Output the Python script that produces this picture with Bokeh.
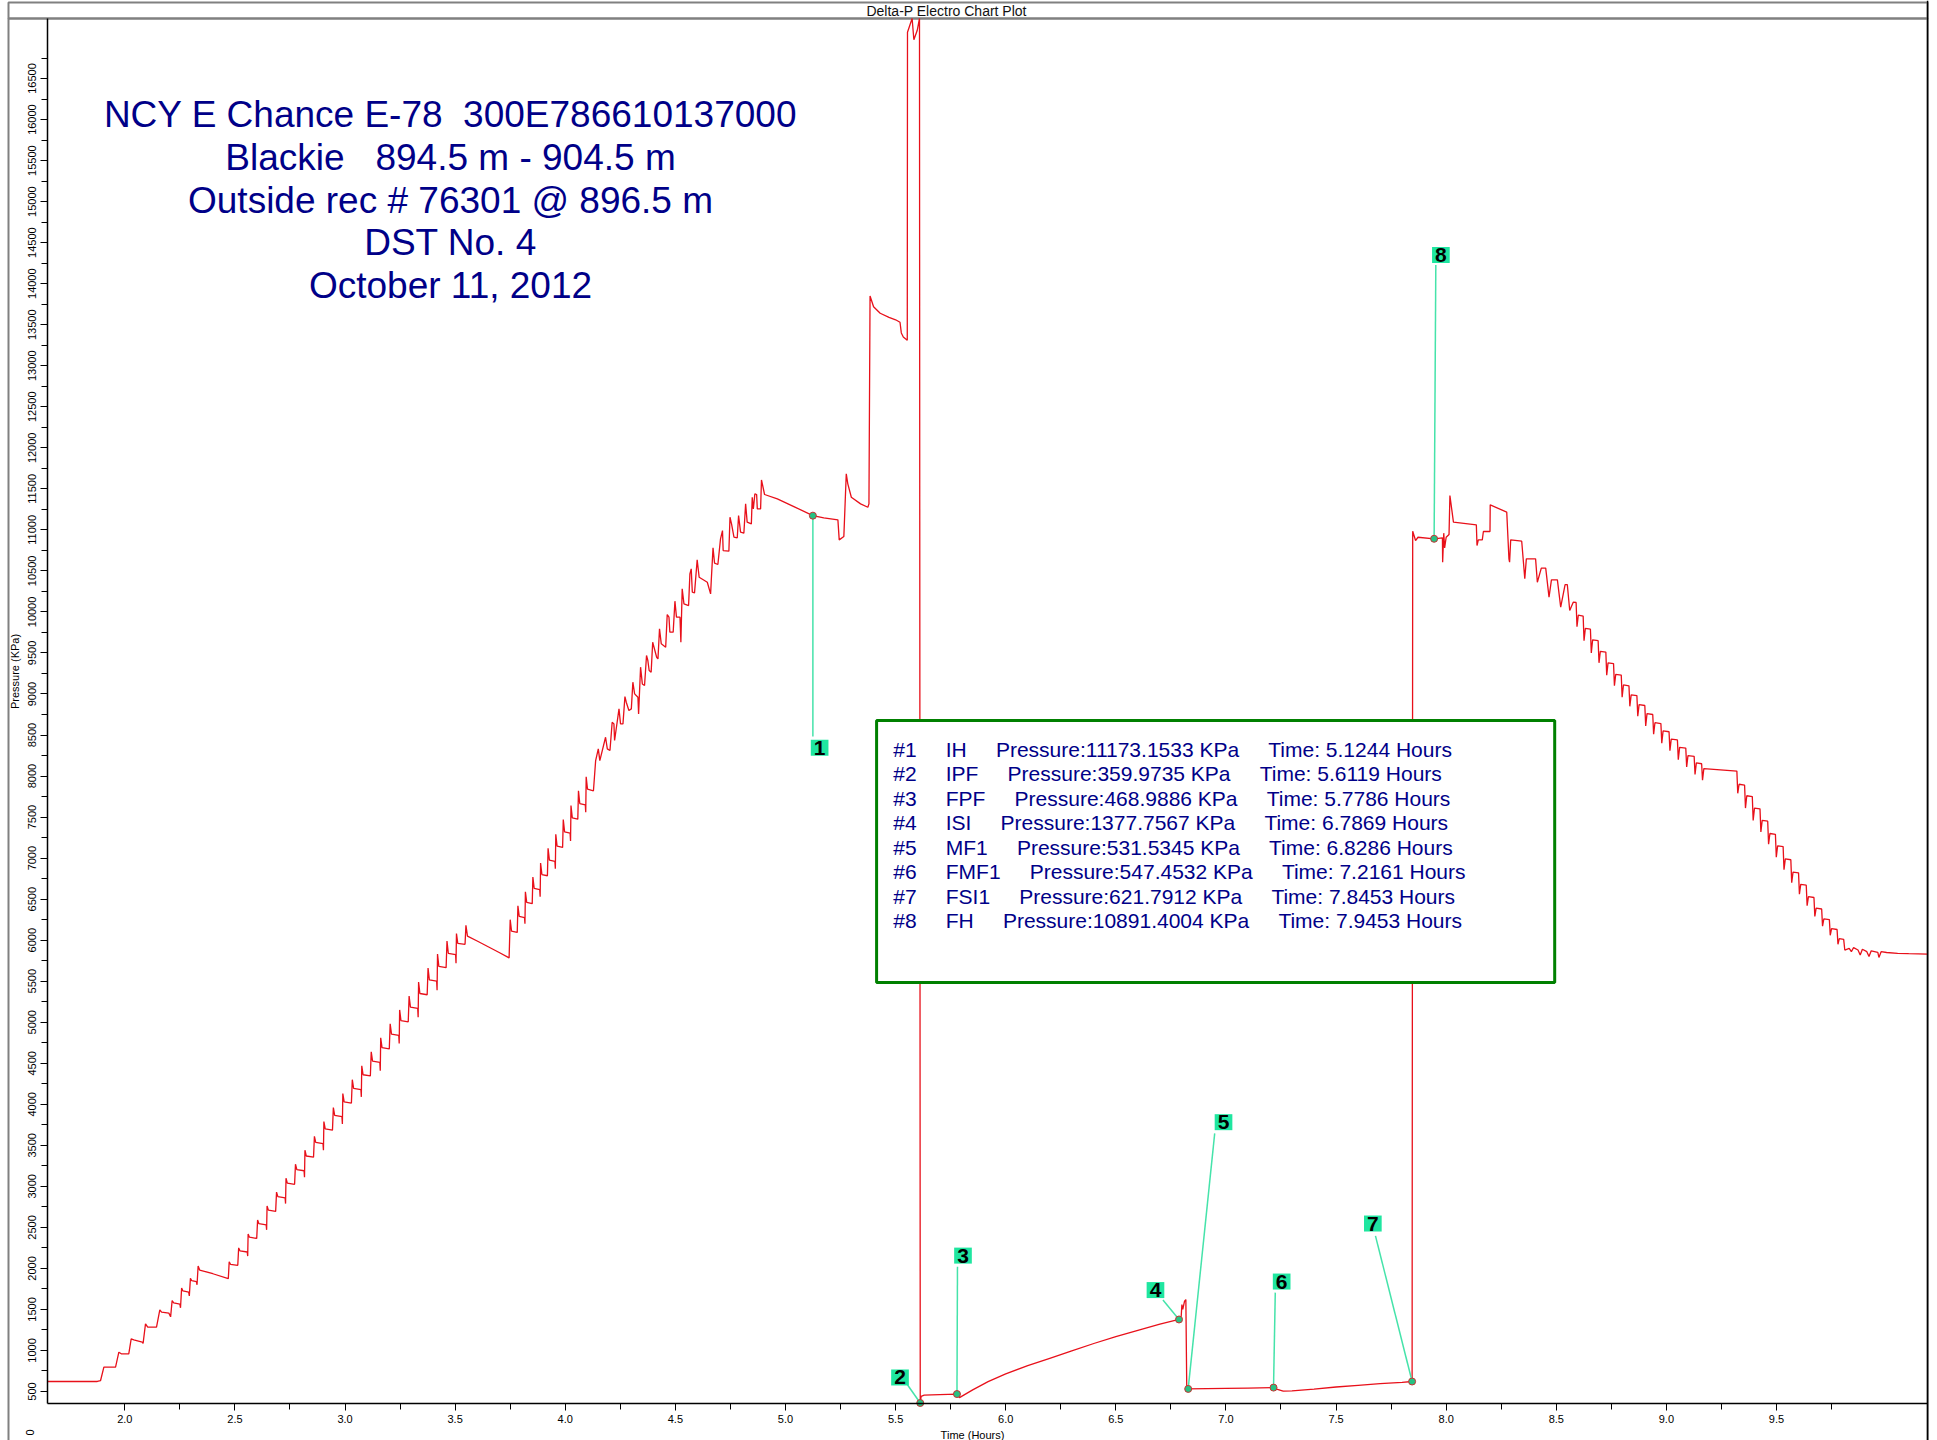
import math
from bokeh.plotting import figure
from bokeh.models import Range1d, FixedTicker, Label, BoxAnnotation, Span, NumeralTickFormatter
from bokeh.embed import file_html
from bokeh.resources import INLINE

FONT = "Liberation Sans"
NB = "\u00a0"

# ---------------- data ----------------
# running in hole: stepped ramp up to IH
run_in_time = [
    1.649, 1.875, 1.890, 1.905, 1.958, 1.973, 1.984, 2.018, 2.029, 2.041, 2.079, 2.083,
    2.094, 2.104, 2.144, 2.159, 2.167, 2.200, 2.208, 2.215, 2.222, 2.250, 2.253, 2.258,
    2.264, 2.290, 2.293, 2.298, 2.304, 2.325, 2.328, 2.333, 2.340, 2.400, 2.470,
    2.474, 2.480, 2.513, 2.517, 2.523, 2.556, 2.558, 2.560, 2.566, 2.599, 2.603, 2.609,
    2.642, 2.644, 2.646, 2.652, 2.685, 2.689, 2.695, 2.728, 2.730, 2.732, 2.738, 2.771,
    2.775, 2.781, 2.814, 2.816, 2.818, 2.824, 2.857, 2.861, 2.867, 2.900, 2.902, 2.904,
    2.910, 2.943, 2.947, 2.953, 2.986, 2.988, 2.990, 2.996, 3.029, 3.033, 3.039, 3.072,
    3.074, 3.076, 3.082, 3.115, 3.119, 3.125, 3.158, 3.160, 3.162, 3.168, 3.201, 3.205,
    3.211, 3.244, 3.246, 3.248, 3.254, 3.287, 3.291, 3.297, 3.330, 3.332, 3.334, 3.340,
    3.373, 3.377, 3.383, 3.416, 3.418, 3.420, 3.426, 3.459, 3.463, 3.469, 3.502, 3.504,
    3.506, 3.512, 3.545, 3.549, 3.556, 3.600, 3.650, 3.700, 3.745,
    3.750, 3.756, 3.782, 3.785, 3.791, 3.815, 3.817, 3.819, 3.825, 3.850, 3.853, 3.859,
    3.884, 3.886, 3.888, 3.894, 3.919, 3.922, 3.928, 3.953, 3.955, 3.957, 3.963, 3.988,
    3.991, 3.997, 4.022, 4.024, 4.026, 4.032, 4.057, 4.060, 4.066, 4.091, 4.093, 4.095,
    4.101, 4.128, 4.138,
    4.150, 4.157, 4.183, 4.191, 4.203, 4.213, 4.221, 4.224, 4.244, 4.251, 4.262, 4.271,
    4.277, 4.289, 4.300, 4.307, 4.315, 4.330, 4.333, 4.342, 4.350, 4.360, 4.369, 4.375,
    4.381, 4.390, 4.397, 4.403, 4.415, 4.421, 4.428, 4.436, 4.456, 4.463, 4.471, 4.475,
    4.490, 4.498, 4.505, 4.521, 4.525, 4.531, 4.539, 4.560, 4.566, 4.572, 4.577, 4.587,
    4.599, 4.608, 4.645, 4.660, 4.663, 4.671, 4.678, 4.693, 4.705, 4.714, 4.717, 4.743,
    4.748, 4.755, 4.766, 4.781, 4.787, 4.796, 4.811, 4.819, 4.826, 4.845, 4.849, 4.854,
    4.861, 4.869, 4.872, 4.887, 4.891, 4.905, 4.963, 5.038, 5.1244, 5.174, 5.238, 5.244,
    5.265, 5.276, 5.283, 5.299, 5.341, 5.374, 5.379,
]
run_in_kpa = [
    622, 622, 634, 796, 796, 979, 959, 959, 1142, 1130, 1101, 1085,
    1325, 1284, 1284, 1496, 1467, 1455, 1410, 1609, 1580, 1565, 1520, 1760,
    1725, 1710, 1665, 1880, 1850, 1840, 1800, 2030, 1980, 1935, 1875,
    2080, 2050, 2038, 2250, 2215, 2200, 2150, 2420, 2380, 2365, 2590, 2545,
    2530, 2470, 2760, 2710, 2695, 2930, 2875, 2860, 2790, 3100, 3040, 3025,
    3270, 3205, 3190, 3110, 3440, 3370, 3355, 3610, 3535, 3520, 3440, 3790,
    3700, 3685, 3960, 3865, 3850, 3760, 4130, 4030, 4015, 4300, 4195, 4180,
    4090, 4470, 4360, 4345, 4640, 4525, 4510, 4410, 4810, 4690, 4675, 4980,
    4855, 4840, 4740, 5150, 5020, 5005, 5320, 5185, 5170, 5060, 5490, 5350,
    5335, 5660, 5515, 5500, 5390, 5830, 5680, 5665, 5990, 5840, 5825, 5720,
    6080, 5960, 5950, 6180, 6050, 5990, 5920, 5850, 5784,
    6250, 6110, 6095, 6420, 6290, 6275, 6200, 6590, 6460, 6445, 6770, 6630,
    6615, 6530, 6940, 6800, 6785, 7120, 6975, 6960, 6870, 7290, 7145, 7130,
    7470, 7320, 7305, 7210, 7640, 7490, 7475, 7820, 7665, 7650, 7560, 7990,
    7840, 7820, 8189,
    8331, 8189, 8473, 8331, 8311, 8656, 8636, 8433, 8819, 8636, 8636, 8969,
    8900, 8799, 8819, 9144, 9002, 8961, 8758, 9327, 9123, 9103, 9469, 9408,
    9286, 9266, 9631, 9570, 9448, 9428, 9794, 9611, 9570, 9968, 9936, 9753,
    9753, 10131, 9936, 9936, 9631, 10281, 10098, 10078, 10464, 10525, 10240, 10232,
    10635, 10423, 10362, 10220, 10383, 10781, 10594, 10578, 10890, 10992, 10748, 10740,
    11154, 11073, 10911, 10903, 11175, 10972, 10959, 11317, 11094, 11073, 11398, 11256,
    11439, 11431, 11256, 11256, 11609, 11431, 11378, 11284, 11173, 11146, 11122, 10878,
    10919, 11683, 11561, 11398, 11317, 11276, 11317,
]

# tool at bottom, pressure surge before opening (runs off the top of the chart)
surge_time = [5.384, 5.400, 5.430, 5.470, 5.500, 5.520, 5.526, 5.535, 5.553, 5.554,
              5.575, 5.583, 5.598, 5.6085]
surge_kpa = [13850, 13720, 13640, 13590, 13560, 13530, 13400, 13350, 13310, 17065,
             17232, 16972, 17085, 17232]

# flow and shut-in periods
test_time = [5.6119, 5.616, 5.630, 5.700, 5.7786, 5.790, 5.850, 5.920, 6.000, 6.100,
             6.200, 6.300, 6.400, 6.500, 6.600, 6.700, 6.7869, 6.797, 6.800, 6.804,
             6.812, 6.818, 6.822, 6.8286, 7.000, 7.100, 7.2161, 7.230, 7.260, 7.300,
             7.400, 7.500, 7.600, 7.700, 7.800, 7.8453]
test_kpa = [360, 440, 455, 462, 469, 425, 520, 620, 715, 815,
            905, 995, 1085, 1170, 1245, 1320, 1378, 1420, 1560, 1500,
            1600, 1620, 560, 531, 538, 542, 547, 530, 505, 508,
            530, 555, 575, 595, 612, 622]

# pulling out of hole
pull_out_time = [
    7.848, 7.861, 7.872, 7.9453, 7.983, 7.984, 7.989, 7.993, 8.000, 8.013, 8.017, 8.033,
    8.137, 8.140, 8.146, 8.164, 8.169, 8.199, 8.200, 8.275, 8.285, 8.288, 8.293, 8.343,
    8.357, 8.364, 8.406, 8.414, 8.432, 8.452, 8.467, 8.478, 8.505, 8.520, 8.540, 8.550,
    8.561, 8.577, 8.590, 8.594, 8.600, 8.622, 8.626, 8.632, 8.655, 8.659, 8.665, 8.690,
    8.694, 8.700, 8.725, 8.729, 8.735, 8.760, 8.764, 8.770, 8.795, 8.799, 8.805, 8.830,
    8.834, 8.840, 8.866, 8.870, 8.876, 8.902, 8.906, 8.912, 8.938, 8.942, 8.948, 8.975,
    8.979, 8.985, 9.012, 9.016, 9.022, 9.050, 9.054, 9.060, 9.088, 9.092, 9.098, 9.126,
    9.130, 9.136, 9.160, 9.164, 9.170, 9.320, 9.324, 9.330, 9.355, 9.359, 9.365, 9.390,
    9.394, 9.400, 9.425, 9.429, 9.435, 9.460, 9.464, 9.470, 9.495, 9.499, 9.505, 9.530,
    9.534, 9.540, 9.565, 9.569, 9.575, 9.600, 9.604, 9.610, 9.635, 9.639, 9.645, 9.670,
    9.674, 9.680, 9.705, 9.709, 9.715, 9.740, 9.744, 9.750, 9.775, 9.779, 9.785, 9.805,
    9.810, 9.830, 9.840, 9.850, 9.870, 9.880, 9.890, 9.910, 9.920, 9.930, 9.960, 9.965,
    9.975, 10.000, 10.050, 10.100, 10.186,
]
pull_out_kpa = [
    10984, 10870, 10910, 10891, 10903, 10606, 10960, 10781, 10910, 10944, 11419, 11094,
    11062, 10809, 10879, 10879, 10980, 10980, 11305, 11216, 10647, 10606, 10879, 10862,
    10404, 10647, 10647, 10362, 10533, 10533, 10180, 10391, 10391, 10058, 10334, 10334,
    10017, 10119, 10115, 9820, 9960, 9950, 9650, 9800, 9790, 9500, 9660, 9650,
    9380, 9520, 9510, 9230, 9380, 9370, 9100, 9240, 9230, 8960, 9110, 9100,
    8850, 8990, 8980, 8730, 8870, 8860, 8610, 8760, 8750, 8510, 8650, 8640,
    8400, 8550, 8540, 8310, 8450, 8440, 8200, 8350, 8340, 8110, 8250, 8240,
    8020, 8160, 8150, 7950, 8090, 8060, 7790, 7900, 7890, 7610, 7760, 7750,
    7460, 7610, 7600, 7320, 7460, 7450, 7170, 7300, 7290, 7010, 7150, 7140,
    6860, 6990, 6980, 6700, 6830, 6820, 6560, 6680, 6670, 6420, 6530, 6520,
    6290, 6390, 6380, 6170, 6260, 6250, 6060, 6140, 6130, 5950, 6020, 6010,
    5880, 5900, 5860, 5910, 5880, 5820, 5890, 5860, 5800, 5870, 5850, 5790,
    5860, 5850, 5840, 5835, 5830,
]

# picked events
event_no = [1, 2, 3, 4, 5, 6, 7, 8]
event_code = ["IH", "IPF", "FPF", "ISI", "MF1", "FMF1", "FSI1", "FH"]
event_kpa = [11173.1533, 359.9735, 468.9886, 1377.7567, 531.5345, 547.4532, 621.7912, 10891.4004]
event_time = [5.1244, 5.6119, 5.7786, 6.7869, 6.8286, 7.2161, 7.8453, 7.9453]

x_major_ticks = [2.0, 2.5, 3.0, 3.5, 4.0, 4.5, 5.0, 5.5, 6.0, 6.5, 7.0, 7.5, 8.0, 8.5, 9.0, 9.5]
x_minor_ticks = [2.25, 2.75, 3.25, 3.75, 4.25, 4.75, 5.25, 5.75, 6.25, 6.75, 7.25, 7.75,
                 8.25, 8.75, 9.25, 9.75]
y_major_ticks = list(range(500, 16501, 500))
y_minor_ticks = list(range(750, 16751, 500))

chart_title = "Delta-P Electro Chart Plot"
x_title = "Time (Hours)"
y_title = "Pressure (KPa)"
header_lines = [
    "NCY E Chance E-78" + NB * 2 + "300E786610137000",
    "Blackie" + NB * 3 + "894.5 m - 904.5 m",
    "Outside rec # 76301 @ 896.5 m",
    "DST No. 4",
    "October 11, 2012",
]

# ---------------- layout (annotation placement) ----------------
# whole canvas is the frame; the plot area is drawn inside it
CX0, CX1 = 1.43559, 10.2310        # canvas left / right in hours
CY0, CY1 = -97.1, 17451.1          # canvas bottom / top in KPa
X0, X1 = 1.649, 10.186             # plot area
Y0, Y1 = 353.8, 17232.0
page_left, page_top, off_bottom = 1.4719, 17427, -300
header_x = 3.479
header_y = [16067, 15539, 15012, 14501, 13973]
box_l, box_r, box_b, box_t = 5.4137, 8.4928, 5484, 8677
rows_x, rows_top, rows_step = 5.4891, 8324, 298.2
callout_x = [5.155, 5.520, 5.806, 6.680, 6.989, 7.253, 7.667, 7.976]
callout_y = [8345, 671, 2156, 1736, 3782, 1840, 2547, 14350]
leader_x = [5.1244, 5.549, 5.781, 6.714, 6.949, 7.224, 7.679, 7.953]
leader_y = [8482, 600, 2020, 1615, 3646, 1705, 2397, 14229]

NAVY = "#000088"
RED = "#e8101a"
LEADER = "#45e3aa"
TAG = "#1fe6a0"
GREY = "#808080"

p = figure(width=1937, height=1440, output_backend="svg", toolbar_location=None, title=None,
           x_range=Range1d(CX0, CX1), y_range=Range1d(CY0, CY1),
           min_border=0, min_border_left=0, min_border_right=0, min_border_top=0,
           min_border_bottom=0)
p.background_fill_color = "white"
p.border_fill_color = "white"
p.outline_line_color = None
p.xgrid.visible = False
p.ygrid.visible = False

for ax in (p.xaxis[0], p.yaxis[0]):
    ax.axis_line_color = "black"
    ax.axis_line_width = 1.5
    ax.major_tick_line_color = "black"
    ax.minor_tick_line_color = "black"
    ax.major_tick_in = 0
    ax.minor_tick_in = 0
    ax.major_tick_out = 7
    ax.minor_tick_out = 6
    ax.major_label_text_font = FONT
    ax.major_label_text_font_size = "11px"
    ax.major_label_text_color = "black"

p.xaxis.fixed_location = Y0
p.xaxis.bounds = (X0, X1)
p.xaxis.ticker = FixedTicker(ticks=x_major_ticks, minor_ticks=x_minor_ticks)
p.xaxis.formatter = NumeralTickFormatter(format="0.0")
p.xaxis.major_label_standoff = 5
p.yaxis.fixed_location = X0
p.yaxis.bounds = (Y0, Y1)
p.yaxis.ticker = FixedTicker(ticks=y_major_ticks, minor_ticks=y_minor_ticks)
p.yaxis.major_label_orientation = "vertical"
p.yaxis.major_label_standoff = 4

# page frame and title band
p.add_layout(BoxAnnotation(left=page_left, right=X1, top=page_top, bottom=Y1,
                           fill_alpha=0, line_color=GREY, line_width=2, line_alpha=1.0,
                           level="underlay"))
p.add_layout(BoxAnnotation(left=page_left, right=X1, top=Y1, bottom=off_bottom,
                           fill_alpha=0, line_color=GREY, line_width=2, line_alpha=1.0,
                           level="underlay"))
p.add_layout(Span(location=X1, dimension="height", line_color="black", line_width=1.5))

# pressure trace
all_time = run_in_time + surge_time + test_time + pull_out_time
all_kpa = run_in_kpa + surge_kpa + test_kpa + pull_out_kpa
p.line(all_time, all_kpa, line_color=RED, line_width=1.3)

# leader lines and event markers
p.segment(x0=event_time, y0=event_kpa, x1=leader_x, y1=leader_y, line_color=LEADER, line_width=1.5)
p.scatter(event_time, event_kpa, size=7, fill_color="#26c283", line_color="#c83232", line_width=1)

# titles
p.add_layout(Label(x=5.7316, y=17329, text=chart_title, text_font=FONT, text_font_size="14px",
                   text_color="#111111", text_align="center", text_baseline="middle"))
p.add_layout(Label(x=5.8492, y=-36, text=x_title, text_font=FONT, text_font_size="11px",
                   text_color="black", text_align="center", text_baseline="middle"))
p.add_layout(Label(x=1.5037, y=9274, text=y_title, text_font=FONT, text_font_size="11px",
                   text_color="black", text_align="center", text_baseline="middle",
                   angle=math.pi / 2))
p.add_layout(Label(x=1.5673, y=0, text="0", text_font=FONT, text_font_size="11px",
                   text_color="black", text_align="center", text_baseline="middle",
                   angle=math.pi / 2))

# header block
for line, yy in zip(header_lines, header_y):
    p.add_layout(Label(x=header_x, y=yy, text=line, text_font=FONT, text_font_size="37px",
                       text_color=NAVY, text_align="center", text_baseline="middle"))

# event table box
p.add_layout(BoxAnnotation(left=box_l, right=box_r, bottom=box_b, top=box_t,
                           fill_color="white", fill_alpha=1.0, line_color="#008000",
                           line_width=3, line_alpha=1.0))
sp = NB * 5
for i, (n, c, pk, t) in enumerate(zip(event_no, event_code, event_kpa, event_time)):
    txt = f"#{n}{sp}{c}{sp}Pressure:{pk:.4f} KPa{sp}Time: {t:.4f} Hours"
    p.add_layout(Label(x=rows_x, y=rows_top - i * rows_step, text=txt, text_font=FONT,
                       text_font_size="21px", text_color=NAVY, text_align="left",
                       text_baseline="middle"))

# numbered callouts
for n, cx, cy in zip(event_no, callout_x, callout_y):
    p.add_layout(Label(x=cx, y=cy, text=str(n), text_font=FONT, text_font_size="21px",
                       text_font_style="bold", text_color="black", text_align="center",
                       text_baseline="middle", background_fill_color=TAG, background_fill_alpha=1.0,
                       padding=(3, 1)))

open("out.html", "w").write(file_html(p, INLINE))
